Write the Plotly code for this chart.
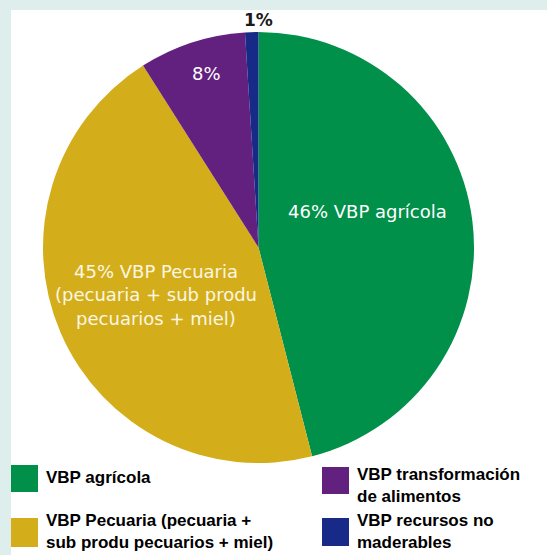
import plotly.graph_objects as go

W, H = 547, 555

# --------------------------------------------------------------------------- #
# Data
# --------------------------------------------------------------------------- #
categories = [
    "VBP agrícola",
    "VBP Pecuaria (pecuaria + sub produ pecuarios + miel)",
    "VBP transformación de alimentos",
    "VBP recursos no maderables",
]
shares = [46, 45, 8, 1]
slice_text = [
    "46% VBP agrícola",
    "45% VBP Pecuaria<br>(pecuaria + sub produ<br>pecuarios + miel)",
    "8%",
    "<b>1%</b>",
]
legend_text = [
    "VBP agrícola",
    "VBP Pecuaria (pecuaria +<br>sub produ pecuarios + miel)",
    "VBP transformación<br>de alimentos",
    "VBP recursos no<br>maderables",
]
colors = ["#00904a", "#d4ae1a", "#63217f", "#172a87"]


def px_x(x):
    return x / W


def px_y(y):
    return 1 - y / H


fig = go.Figure(
    go.Pie(
        labels=categories,
        values=shares,
        sort=False,
        direction="clockwise",
        rotation=0,
        marker=dict(colors=colors, line=dict(width=0)),
        textinfo="none",
        hoverinfo="label+percent",
        showlegend=False,
        domain=dict(x=[px_x(42), px_x(475)], y=[px_y(463), px_y(32)]),
    )
)

# white panel on the pale cyan frame
fig.add_shape(type="rect", xref="paper", yref="paper",
              x0=px_x(11), x1=1, y0=0, y1=px_y(10),
              fillcolor="white", line=dict(width=0), layer="below")

# slice labels (positions)
label_pos = [(367, 211, "white", 18), (156, 295, "#fbf6e4", 18),
             (206, 74, "white", 18), (258, 20, "#1a1a1a", 17)]
for txt, (x, y, c, s) in zip(slice_text, label_pos):
    fig.add_annotation(x=px_x(x), y=px_y(y), xref="paper", yref="paper",
                       xanchor="center", yanchor="middle",
                       text=txt, showarrow=False, align="center",
                       font=dict(family="DejaVu Sans", size=s, color=c))

# hand-built two-column legend: swatch box + text block beside it
swatches = [(11, 465, 492), (11, 518, 547), (322, 467, 494), (322, 518, 546)]
text_y = [477, 531, 485, 531]
for txt, col, (x, y0, y1), ty in zip(legend_text, colors, swatches, text_y):
    fig.add_shape(type="rect", xref="paper", yref="paper",
                  x0=px_x(x), x1=px_x(x + 27), y0=px_y(y1), y1=px_y(y0),
                  fillcolor=col, line=dict(width=0))
    fig.add_annotation(x=px_x(x + 33), y=px_y(ty), xref="paper", yref="paper",
                       xanchor="left", yanchor="middle", align="left",
                       text="<b>" + txt + "</b>", showarrow=False,
                       font=dict(family="Liberation Sans", size=17, color="black"))

fig.update_layout(
    width=W, height=H,
    margin=dict(t=0, l=0, r=0, b=0),
    paper_bgcolor="#ddeeed",
    plot_bgcolor="white",
)
fig.write_html("out.html", config={"displayModeBar": False},
               post_script="document.body.style.margin='0';")
